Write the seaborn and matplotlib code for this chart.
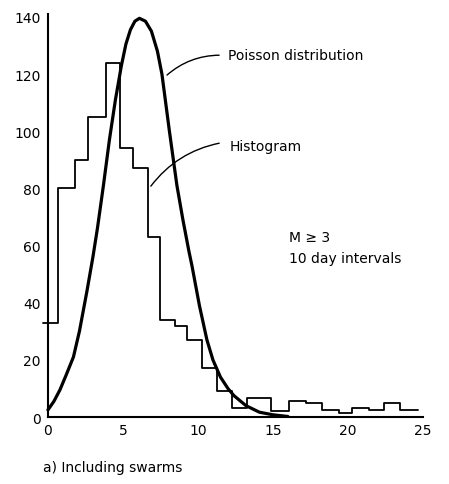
import numpy as np
import pandas as pd
import matplotlib
matplotlib.use("Agg")
import matplotlib.pyplot as plt
import seaborn as sns

# ── Data ─────────────────────────────────────────────────
# histogram: bin edges (x) and heights (number of intervals)
BIN_EDGES = [-0.3, 0.7, 1.8, 2.7, 3.9, 4.8, 5.7, 6.7, 7.5, 8.5, 9.3, 10.3,
             11.3, 12.3, 13.3, 14.1, 14.9, 16.1, 17.2, 18.3, 19.4, 20.3,
             21.4, 22.4, 23.5, 24.7]
BIN_HEIGHTS = [33, 80, 90, 105, 124, 94, 87, 63, 34, 32, 27, 17,
               9, 3, 6.5, 6.5, 2.2, 5.5, 5, 2.5, 1.5, 3,
               2.5, 5, 2.5]

# fitted Poisson curve
CURVE_X = [0.0, 0.4, 0.8, 1.2, 1.7, 2.1, 2.6, 3.0, 3.3, 3.7, 4.1, 4.5, 4.9,
           5.2, 5.5, 5.8, 6.1, 6.5, 6.9, 7.3, 7.6, 8.1, 8.6, 9.0, 9.4, 9.6,
           10.1, 10.6, 11.0, 11.5, 12.0, 12.4, 13.2, 14.1, 15.0, 16.0]
CURVE_Y = [2.5, 5.5, 9.5, 14.5, 21, 30, 44, 56, 66, 81, 97, 111, 123,
           130.5, 135.5, 138.5, 139.5, 138.5, 135, 128, 120, 100, 81, 69, 58, 53,
           39, 27, 20, 14, 10, 7.5, 4, 1.7, 0.8, 0.2]

Y_TICKS = [0, 20, 40, 60, 80, 100, 120, 140]
X_TICKS = [0, 5, 10, 15, 20, 25]

# ── Figure ───────────────────────────────────────────────
sns.set_style("white")
plt.rcParams["font.family"] = ["DejaVu Sans"]
plt.rcParams["text.color"] = "black"

fig = plt.figure(figsize=(4.49, 4.85), dpi=100)
ax = fig.add_axes([0.090, 0.138, 0.862, 0.831])

centers = [(a + b) / 2 for a, b in zip(BIN_EDGES[:-1], BIN_EDGES[1:])]
hist_df = pd.DataFrame({"x": centers, "count": BIN_HEIGHTS})
sns.histplot(data=hist_df, x="x", weights="count", bins=BIN_EDGES,
             element="step", fill=False, color="black", linewidth=1.3, ax=ax)

curve_df = pd.DataFrame({"x": CURVE_X, "y": CURVE_Y})
sns.lineplot(data=curve_df, x="x", y="y", color="black", linewidth=2.3,
             ax=ax, sort=False)

ax.set_xlim(-0.5, 25.3)
ax.set_ylim(0, 141)
ax.spines["left"].set_position(("data", 0))
ax.spines["bottom"].set_bounds(0, 25)
sns.despine(ax=ax)
for s in ("left", "bottom"):
    ax.spines[s].set_linewidth(1.5)
    ax.spines[s].set_color("black")

ax.set_xticks(X_TICKS)
ax.set_yticks(Y_TICKS)
ax.tick_params(axis="x", direction="in", length=8, width=1.2, pad=4,
               labelsize=10, colors="black")
ax.tick_params(axis="y", direction="in", length=4, width=1.2, pad=5,
               labelsize=10, colors="black")
ax.set_xlabel("")
ax.set_ylabel("")

# leaders and labels
ax.annotate("", xy=(7.8, 119), xytext=(11.6, 126.6),
            arrowprops=dict(arrowstyle="-", color="black", lw=1.0,
                            connectionstyle="arc3,rad=0.2"))
ax.text(12.0, 126.5, "Poisson distribution", fontsize=10, va="center",
        color="black")

ax.annotate("", xy=(6.75, 80), xytext=(11.6, 96),
            arrowprops=dict(arrowstyle="-", color="black", lw=1.0,
                            connectionstyle="arc3,rad=0.2"))
ax.text(12.1, 95, "Histogram", fontsize=10, va="center", color="black")

ax.text(16.1, 63, "M ≥ 3", fontsize=10, va="center", color="black")
ax.text(16.1, 55.5, "10 day intervals", fontsize=10, va="center",
        color="black")

fig.text(0.096, 0.035, "a) Including swarms", fontsize=10, va="center",
         color="black")

fig.savefig("out.png", dpi=100, facecolor="white")
